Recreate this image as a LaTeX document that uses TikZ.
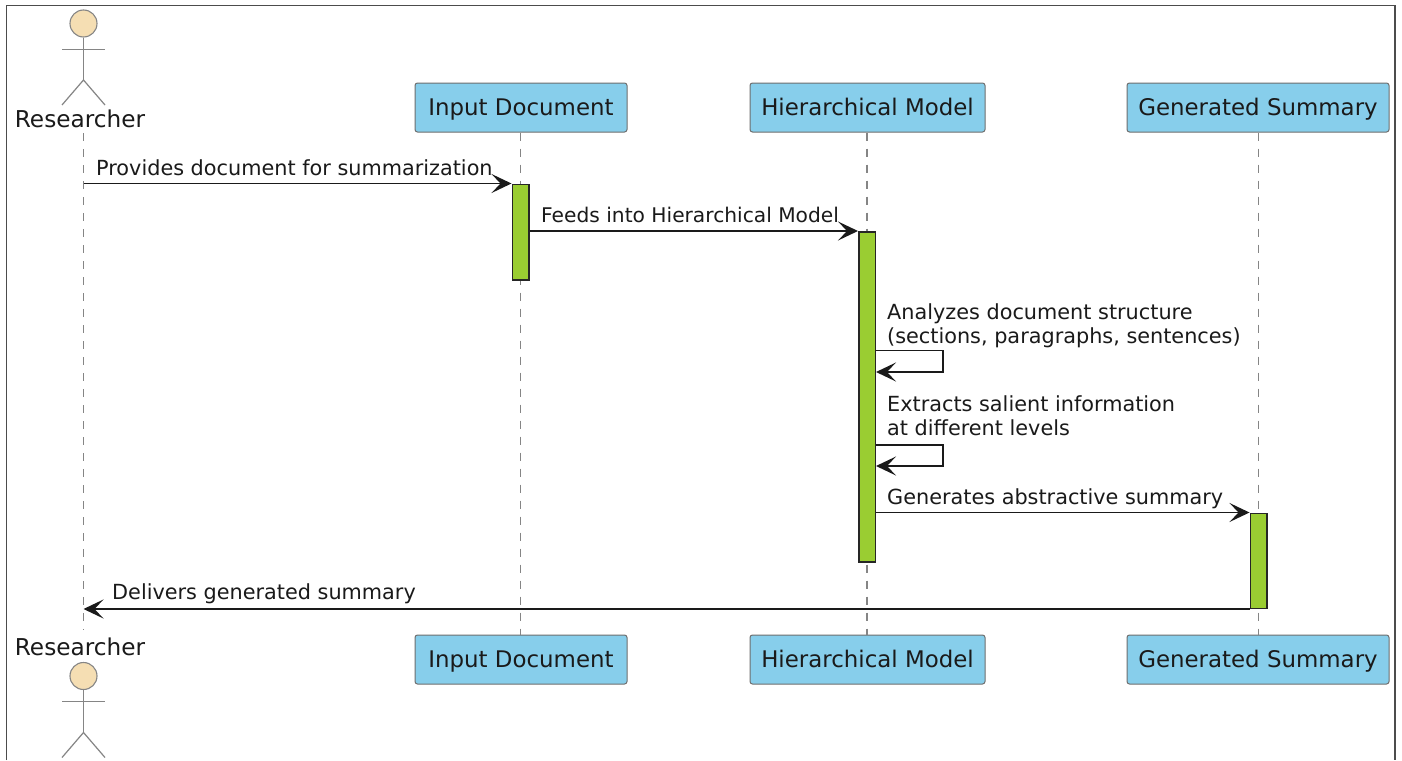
\documentclass[tikz,border=0pt]{standalone}
\usepackage{fontspec}
\setmainfont{DejaVu Sans}
\usetikzlibrary{arrows.meta,calc}
\definecolor{boxblue}{HTML}{87CEEB}
\definecolor{actgreen}{HTML}{9ACD32}
\definecolor{actorfill}{HTML}{F5DEB3}
\definecolor{linegray}{HTML}{6E6E6E}
\definecolor{softgray}{HTML}{858585}
\definecolor{inkdark}{HTML}{1A1A1A}
\tikzset{
  x=1pt,y=-1pt,
  participant/.style={draw=linegray,fill=boxblue,rounded corners=2.5pt,line width=1pt,minimum height=49pt,inner sep=0pt,text height=18.5pt,text depth=3pt,text=inkdark,font=\fontsize{22.9}{27}\selectfont,anchor=center},
  actorname/.style={text=inkdark,inner sep=0pt,font=\fontsize{23.2}{27}\selectfont,anchor=base},
  lifeline/.style={draw=softgray,line width=1.1pt,dash pattern=on 8pt off 8pt},
  activation/.style={draw=black!85,fill=actgreen,line width=1.5pt,minimum width=16.5pt,inner sep=0pt,anchor=north},
  msg/.style={draw=inkdark,line width=1.6pt,-{Stealth[length=20pt,width=19pt,inset=9pt]}},
  msglabel/.style={text=inkdark,inner sep=0pt,anchor=base west,align=left,font=\fontsize{20.8}{24}\selectfont},
  actorline/.style={draw=softgray,line width=1.2pt},
  framing/.style={draw=black!70,line width=1.2pt},
}
\newcommand{\actorfig}[2]{%
  \node[circle,draw=softgray,fill=actorfill,line width=1.1pt,minimum size=27pt,inner sep=0pt] (#2head) at (83.5,#1) {};
  \coordinate (#2arml) at (62,#1+25.7);
  \coordinate (#2armr) at (105,#1+25.7);
  \coordinate (#2hip) at (83.5,#1+56.5);
  \coordinate (#2footl) at (62,#1+81.5);
  \coordinate (#2footr) at (105,#1+81.5);
  \draw[actorline] (#2head.south) -- (#2hip);
  \draw[actorline] (#2arml) -- (#2armr);
  \draw[actorline] (#2footl) -- (#2hip) -- (#2footr);
}
\begin{document}
\begin{tikzpicture}
\useasboundingbox (0,0) rectangle (1402,760);
\fill[white] (0,0) rectangle (1402,760);
\draw[framing] (6.5,760) -- (6.5,5.5) -- (1395,5.5) -- (1395,760);

% participants, top
\node[actorname] (rT) at (80,127.5) {Researcher};
\node[participant,minimum width=212pt] (iT) at (521,107.5) {Input Document};
\node[participant,minimum width=235pt] (hT) at (867.5,107.5) {Hierarchical Model};
\node[participant,minimum width=262pt] (gT) at (1258,107.5) {Generated Summary};
% participants, bottom
\node[actorname] (rB) at (80,655.5) {Researcher};
\node[participant,minimum width=212pt] (iB) at (521,659.5) {Input Document};
\node[participant,minimum width=235pt] (hB) at (867.5,659.5) {Hierarchical Model};
\node[participant,minimum width=262pt] (gB) at (1258,659.5) {Generated Summary};

% actors
\actorfig{23.5}{aT}
\actorfig{676}{aB}

% lifelines
\coordinate (rTl) at (83.5,133);
\coordinate (rBl) at (83.5,630);
\draw[lifeline] (rTl) -- (rBl);
\draw[lifeline] (iT.south-|520.5,0) -- (iB.north-|520.5,0);
\draw[lifeline] (hT.south-|867,0) -- (hB.north-|867,0);
\draw[lifeline] (gT.south-|1258.5,0) -- (gB.north-|1258.5,0);

% activations
\node[activation,minimum height=95.5pt] (iA) at (520.5,183.5) {};
\node[activation,minimum height=330pt] (hA) at (867,231) {};
\node[activation,minimum height=95pt] (gA) at (1258.5,512.5) {};

% messages
\coordinate (m1s) at (rTl|-iA.north);
\draw[msg] (m1s) -- (iA.north west);
\coordinate (m2e) at (hA.north west);
\draw[msg] (iA.east|-m2e) -- (m2e);
\coordinate (s1a) at ($(hA.east|-0,350.5)$);
\coordinate (s1b) at ($(hA.east|-0,372)$);
\draw[msg] (s1a) -- (943,350.5) -- (943,372) -- (s1b);
\coordinate (s2a) at ($(hA.east|-0,445)$);
\coordinate (s2b) at ($(hA.east|-0,466)$);
\draw[msg] (s2a) -- (943,445) -- (943,466) -- (s2b);
\draw[msg] (hA.east|-gA.north) -- (gA.north west);
\coordinate (m6) at (gA.south west);
\draw[msg] (m6) -- (rTl|-m6);

% labels
\node[msglabel] (l1) at (96,175) {Provides document for summarization};
\node[msglabel,font=\fontsize{20.2}{24}\selectfont] (l2) at (541,222) {Feeds into Hierarchical Model};
\node[msglabel] (l3) at (887,343) {Analyzes document structure\\(sections, paragraphs, sentences)};
\node[msglabel] (l4) at (887,435) {Extracts salient information\\at different levels};
\node[msglabel] (l5) at (887,504) {Generates abstractive summary};
\node[msglabel] (l6) at (112,599) {Delivers generated summary};
\end{tikzpicture}
\end{document}
